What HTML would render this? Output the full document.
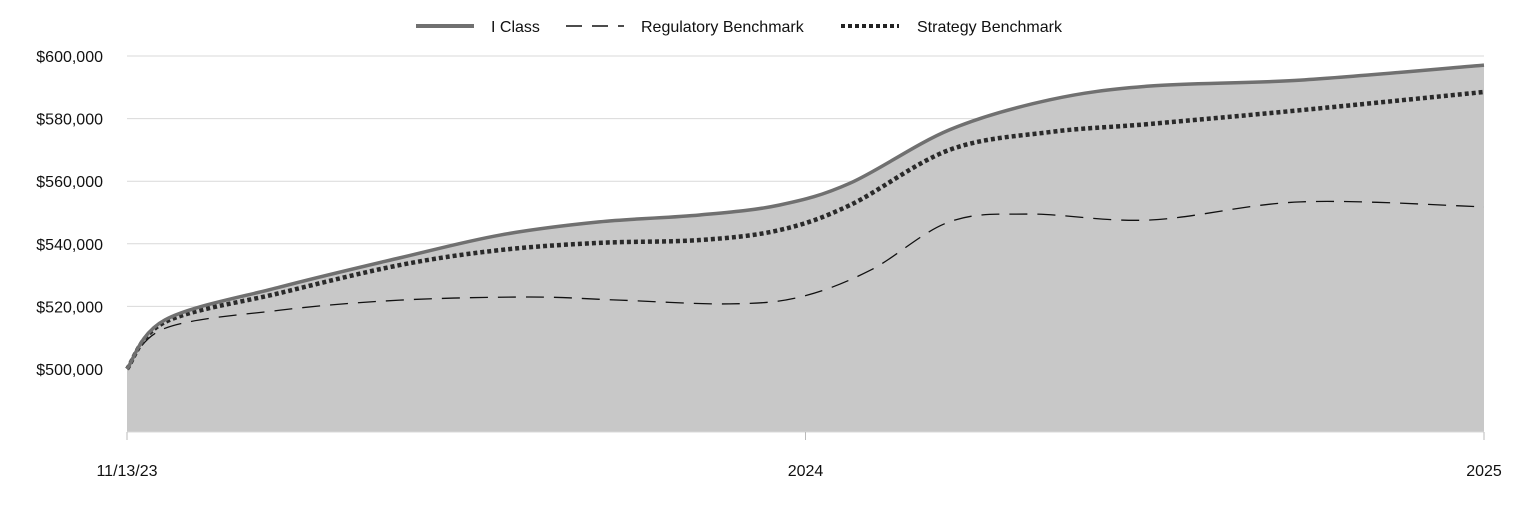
<!DOCTYPE html>
<html><head><meta charset="utf-8"><style>
html,body{margin:0;padding:0;background:#fff;}
svg{display:block;font-family:"Liberation Sans",Arial,sans-serif;}
</style></head><body>
<svg id="chart" width="1524" height="516" viewBox="0 0 1524 516">
<g id="grid"></g>
<g id="area"></g>
<g id="lines"></g>
<g id="axes"></g>
<g id="legend">
  <line x1="416" y1="26" x2="474" y2="26" stroke="#707070" stroke-width="4"/>
  <text x="491" y="32" font-size="16" fill="#111">I Class</text>
  <line x1="566" y1="26" x2="624" y2="26" stroke="#111" stroke-width="1.5" stroke-dasharray="16,10"/>
  <text x="641" y="32" font-size="16" fill="#111">Regulatory Benchmark</text>
  <line x1="841" y1="26" x2="899" y2="26" stroke="#222" stroke-width="4" stroke-dasharray="4,3"/>
  <text x="917" y="32" font-size="16" fill="#111">Strategy Benchmark</text>
</g>
</svg>
<script>
const xLabels = ["11/13/23","2024","2025"];
const yTicks = [500000,520000,540000,560000,580000,600000];
const iClassX = [0,0.028,0.113,0.201,0.275,0.348,0.422,0.481,0.533,0.606,0.680,0.754,0.865,1];
const iClassV = [500000,515700,526200,535500,542800,547000,549200,552400,559400,576400,586000,590400,592300,597100];
const stratX = [0,0.028,0.113,0.201,0.275,0.348,0.422,0.481,0.533,0.606,0.680,0.754,0.865,1];
const stratV = [500000,515000,524300,533200,538000,540300,541200,544400,552400,570000,575700,578300,582700,588500];
const regX = [0,0.028,0.113,0.201,0.297,0.363,0.444,0.496,0.548,0.606,0.665,0.754,0.865,1];
const regV = [500000,513000,518800,522000,523000,522000,520800,523000,531600,547000,549500,547600,553400,551800];

const X0=127,X1=1484,YB=432;
const xS=f=>X0+f*(X1-X0);
const yS=v=>369-(v-500000)*(313/100000);
const ns="http://www.w3.org/2000/svg";
function mk(tag,attrs,parent){const e=document.createElementNS(ns,tag);for(const k in attrs)e.setAttribute(k,attrs[k]);parent.appendChild(e);return e;}
function smooth(xs,vs){
  const p=xs.map((x,i)=>[xS(x),yS(vs[i])]);
  let d=`M${p[0][0]},${p[0][1]}`;
  for(let i=0;i<p.length-1;i++){
    const p0=p[Math.max(i-1,0)],p1=p[i],p2=p[i+1],p3=p[Math.min(i+2,p.length-1)];
    const c1=[p1[0]+(p2[0]-p0[0])/6,p1[1]+(p2[1]-p0[1])/6];
    const c2=[p2[0]-(p3[0]-p1[0])/6,p2[1]-(p3[1]-p1[1])/6];
    d+=` C${c1[0]},${c1[1]} ${c2[0]},${c2[1]} ${p2[0]},${p2[1]}`;
  }
  return d;
}
const grid=document.getElementById('grid'),axes=document.getElementById('axes');
yTicks.forEach(v=>{
  const l=mk('line',{x1:X0,x2:X1,y1:yS(v),y2:yS(v),stroke:'#d9d9d9','stroke-width':1},grid);
  
  
  const t=mk('text',{x:103,y:yS(v)+6,'text-anchor':'end','font-size':16,fill:'#111'},axes);
  t.textContent='$'+v.toLocaleString('en-US');
  
  
});
const area=document.getElementById('area');
const ap=mk('path',{d:smooth(iClassX,iClassV)+` L${X1},${YB} L${X0},${YB} Z`,fill:'#c8c8c8'},area);


const lines=document.getElementById('lines');
const rp=mk('path',{d:smooth(regX,regV),fill:'none',stroke:'#111','stroke-width':1.3,'stroke-dasharray':'18,10'},lines);


const sp=mk('path',{d:smooth(stratX,stratV),fill:'none',stroke:'#2a2a2a','stroke-width':4.5,'stroke-dasharray':'4,3'},lines);


const ip=mk('path',{d:smooth(iClassX,iClassV),fill:'none',stroke:'#707070','stroke-width':3.5},lines);


const xa=mk('line',{x1:X0,x2:X1,y1:YB,y2:YB,stroke:'#d9d9d9','stroke-width':1},axes);


xLabels.forEach((lab,i)=>{
  const x=xS(i/(xLabels.length-1));
  const tk=mk('line',{x1:x,x2:x,y1:YB,y2:YB+8,stroke:'#bbb','stroke-width':1},axes);
  
  
  const t=mk('text',{x:x,y:476,'text-anchor':'middle','font-size':16,fill:'#111'},axes);
  t.textContent=lab;
  
  
});
</script>
</body></html>
